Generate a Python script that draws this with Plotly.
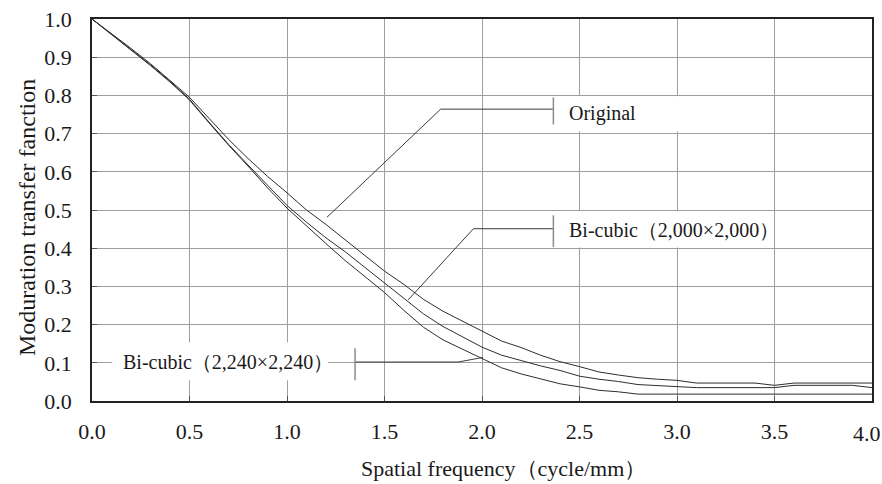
import plotly.graph_objects as go

freq = [round(i * 0.1, 1) for i in range(41)]

mtf_original = [1.000, 0.962, 0.923, 0.883, 0.840, 0.795, 0.740, 0.685, 0.635, 0.588,
                0.545, 0.500, 0.462, 0.422, 0.380, 0.340, 0.305, 0.266, 0.235, 0.208,
                0.183, 0.157, 0.140, 0.120, 0.103, 0.090, 0.076, 0.068, 0.061, 0.057,
                0.054, 0.047, 0.047, 0.047, 0.047, 0.041, 0.047, 0.047, 0.047, 0.047,
                0.047]
mtf_2000 = [1.000, 0.960, 0.920, 0.880, 0.837, 0.790, 0.730, 0.672, 0.618, 0.565,
            0.512, 0.468, 0.427, 0.390, 0.350, 0.310, 0.268, 0.228, 0.195, 0.167,
            0.141, 0.120, 0.105, 0.092, 0.080, 0.065, 0.057, 0.051, 0.043, 0.041,
            0.038, 0.035, 0.035, 0.035, 0.035, 0.035, 0.041, 0.041, 0.041, 0.041,
            0.035]
mtf_2240 = [1.000, 0.960, 0.920, 0.878, 0.835, 0.788, 0.728, 0.670, 0.615, 0.558,
            0.505, 0.458, 0.412, 0.367, 0.325, 0.284, 0.237, 0.193, 0.160, 0.135,
            0.111, 0.087, 0.071, 0.058, 0.045, 0.037, 0.028, 0.024, 0.018, 0.018,
            0.018, 0.018, 0.018, 0.018, 0.018, 0.018, 0.018, 0.018, 0.018, 0.018,
            0.018]

x_ticks = [0.0, 0.5, 1.0, 1.5, 2.0, 2.5, 3.0, 3.5, 4.0]
x_tick_text = ["0.0", "0.5", "1.0", "1.5", "2.0", "2.5", "3.0", "3.5", "4.0"]
y_ticks = [round(i * 0.1, 1) for i in range(11)]
y_tick_text = [f"{v:.1f}" for v in y_ticks]

x_title = "Spatial frequency（cycle/mm）"
y_title = "Moduration transfer fanction"
label_original = "Original"
label_2000 = "Bi-cubic（2,000×2,000）"
label_2240 = "Bi-cubic（2,240×2,240）"

FONT = "Liberation Serif, Times New Roman, serif"
LINE = "#2e2e2e"

fig = go.Figure()
for name, ys in [("Original", mtf_original), ("2000", mtf_2000), ("2240", mtf_2240)]:
    fig.add_trace(go.Scatter(x=freq, y=ys, mode="lines", name=name,
                             line=dict(color=LINE, width=1), showlegend=False,
                             hoverinfo="skip"))

shapes = []
# white boxes behind labels (above grid, below traces)
for x0, x1, y0, y1 in [(2.374, 3.49, 0.706, 0.798), (2.374, 3.49, 0.402, 0.497),
                       (0.103, 1.21, 0.054, 0.154)]:
    shapes.append(dict(type="rect", xref="x", yref="y", x0=x0, x1=x1, y0=y0, y1=y1,
                       fillcolor="white", line=dict(width=0), layer="between"))
# leader lines
leaders = [
    [(1.205, 0.481), (1.788, 0.764), (2.366, 0.764)],
    [(1.622, 0.265), (1.956, 0.451), (2.366, 0.451)],
    [(2.005, 0.114), (1.877, 0.102), (1.349, 0.102)],
]
for pts in leaders:
    for (xa, ya), (xb, yb) in zip(pts[:-1], pts[1:]):
        shapes.append(dict(type="line", xref="x", yref="y", x0=xa, y0=ya, x1=xb, y1=yb,
                           line=dict(color="#3a3a3a", width=1)))
# bracket ticks
for xv, y0, y1 in [(2.366, 0.724, 0.795), (2.366, 0.403, 0.486), (1.349, 0.054, 0.138)]:
    shapes.append(dict(type="line", xref="x", yref="y", x0=xv, x1=xv, y0=y0, y1=y1,
                       line=dict(color="#8c8c8c", width=1.5)))

annotations = [
    dict(x=2.436, y=0.753, text=label_original),
    dict(x=2.436, y=0.448, text=label_2000),
    dict(x=0.147, y=0.101, text=label_2240),
]
for a in annotations:
    a.update(xref="x", yref="y", xanchor="left", yanchor="middle", showarrow=False,
             font=dict(family=FONT, size=20, color="#1a1a1a"))

# last x tick label, right-aligned to stay inside the page
annotations.append(dict(xref="x", yref="paper", x=x_ticks[-1], y=0, xshift=10, yshift=-32,
                        xanchor="right", yanchor="middle", showarrow=False, borderpad=0,
                        text=x_tick_text[-1], font=dict(family=FONT, size=22, color="#1a1a1a")))
# axis titles
annotations.append(dict(xref="paper", yref="paper", x=0.527, y=0, yshift=-67,
                        xanchor="center", yanchor="middle", showarrow=False,
                        text=x_title, font=dict(family=FONT, size=22, color="#1a1a1a")))
annotations.append(dict(xref="paper", yref="paper", x=0, y=0.479, xshift=-65,
                        xanchor="center", yanchor="middle", showarrow=False,
                        textangle=-90, text=y_title,
                        font=dict(family=FONT, size=24, color="#1a1a1a")))

fig.update_layout(
    width=882, height=484,
    margin=dict(l=92, r=10, t=19, b=83, autoexpand=False),
    paper_bgcolor="white", plot_bgcolor="white",
    font=dict(family=FONT, size=22, color="#1a1a1a"),
    shapes=shapes, annotations=annotations,
    xaxis=dict(range=[0, 4.0], tickvals=x_ticks, ticktext=x_tick_text[:-1] + [""],
               automargin=False,
               showgrid=True, gridcolor="#9e9e9e", gridwidth=1.2,
               showline=True, linecolor="#222222", linewidth=1.5, mirror=True,
               ticks="inside", ticklen=5, tickcolor="#555555",
               ticklabelstandoff=10, zeroline=False,
               tickfont=dict(family=FONT, size=22)),
    yaxis=dict(range=[0, 1.0], tickvals=y_ticks, ticktext=y_tick_text,
               automargin=False,
               showgrid=True, gridcolor="#9e9e9e", gridwidth=1.2,
               showline=True, linecolor="#222222", linewidth=1.5, mirror=True,
               ticks="inside", ticklen=5, tickcolor="#555555",
               ticklabelstandoff=14, ticklabeloverflow="allow", zeroline=False,
               tickfont=dict(family=FONT, size=22)),
)

fig.write_html("out.html")
